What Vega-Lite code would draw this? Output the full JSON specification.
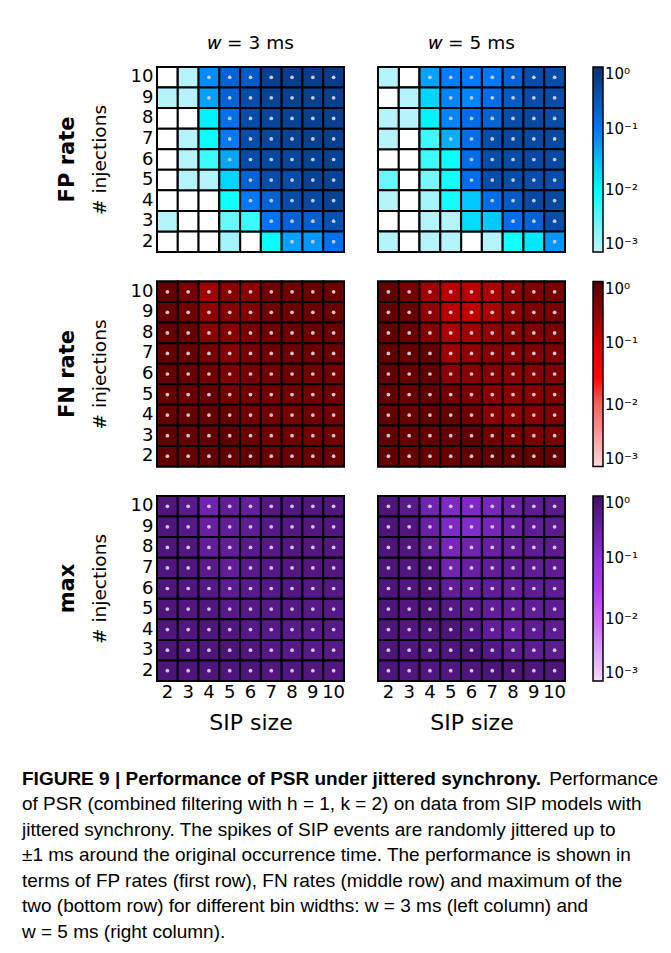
{
"$schema":"https://vega.github.io/schema/vega-lite/v6.json",
"background":"white",
"padding":{"left":22,"top":33,"right":0,"bottom":0},
"config":{
 "view":{"stroke":null},
 "font":"DejaVu Sans",
 "axis":{"labelFont":"DejaVu Sans","labelFontSize":18,"labelColor":"black","titleFont":"DejaVu Sans","titleFontWeight":"normal","titleColor":"black","ticks":false,"domain":false,"grid":false,"labelPadding":4,"labelAngle":0},
 "legend":{"gradientLength":185,"gradientThickness":10,"gradientStrokeColor":"black","gradientStrokeWidth":1.5,"labelFont":"DejaVu Sans","labelFontSize":15,"labelColor":"black","labelOffset":3,"offset":28,"padding":0},
 "title":{"font":"DejaVu Sans","color":"black"}
},
"datasets":{
"fp3":[
{"s":2,"n":10,"v":0},{"s":3,"n":10,"v":0.0012},{"s":4,"n":10,"v":0.07},{"s":5,"n":10,"v":0.2},{"s":6,"n":10,"v":0.25},{"s":7,"n":10,"v":0.6},{"s":8,"n":10,"v":0.65},{"s":9,"n":10,"v":0.65},{"s":10,"n":10,"v":0.65},
{"s":2,"n":9,"v":0.0012},{"s":3,"n":9,"v":0.0012},{"s":4,"n":9,"v":0.05},{"s":5,"n":9,"v":0.2},{"s":6,"n":9,"v":0.4},{"s":7,"n":9,"v":0.55},{"s":8,"n":9,"v":0.6},{"s":9,"n":9,"v":0.6},{"s":10,"n":9,"v":0.6},
{"s":2,"n":8,"v":0},{"s":3,"n":8,"v":0},{"s":4,"n":8,"v":0.013},{"s":5,"n":8,"v":0.13},{"s":6,"n":8,"v":0.4},{"s":7,"n":8,"v":0.5},{"s":8,"n":8,"v":0.55},{"s":9,"n":8,"v":0.6},{"s":10,"n":8,"v":0.6},
{"s":2,"n":7,"v":0},{"s":3,"n":7,"v":0.0012},{"s":4,"n":7,"v":0.009},{"s":5,"n":7,"v":0.1},{"s":6,"n":7,"v":0.4},{"s":7,"n":7,"v":0.5},{"s":8,"n":7,"v":0.55},{"s":9,"n":7,"v":0.6},{"s":10,"n":7,"v":0.6},
{"s":2,"n":6,"v":0},{"s":3,"n":6,"v":0.0012},{"s":4,"n":6,"v":0.005},{"s":5,"n":6,"v":0.045},{"s":6,"n":6,"v":0.4},{"s":7,"n":6,"v":0.45},{"s":8,"n":6,"v":0.5},{"s":9,"n":6,"v":0.55},{"s":10,"n":6,"v":0.55},
{"s":2,"n":5,"v":0},{"s":3,"n":5,"v":0.0012},{"s":4,"n":5,"v":0.0012},{"s":5,"n":5,"v":0.02},{"s":6,"n":5,"v":0.2},{"s":7,"n":5,"v":0.4},{"s":8,"n":5,"v":0.4},{"s":9,"n":5,"v":0.55},{"s":10,"n":5,"v":0.55},
{"s":2,"n":4,"v":0},{"s":3,"n":4,"v":0},{"s":4,"n":4,"v":0},{"s":5,"n":4,"v":0.008},{"s":6,"n":4,"v":0.1},{"s":7,"n":4,"v":0.2},{"s":8,"n":4,"v":0.4},{"s":9,"n":4,"v":0.45},{"s":10,"n":4,"v":0.55},
{"s":2,"n":3,"v":0.0012},{"s":3,"n":3,"v":0},{"s":4,"n":3,"v":0},{"s":5,"n":3,"v":0.003},{"s":6,"n":3,"v":0.005},{"s":7,"n":3,"v":0.12},{"s":8,"n":3,"v":0.2},{"s":9,"n":3,"v":0.22},{"s":10,"n":3,"v":0.35},
{"s":2,"n":2,"v":0},{"s":3,"n":2,"v":0},{"s":4,"n":2,"v":0},{"s":5,"n":2,"v":0.0015},{"s":6,"n":2,"v":0},{"s":7,"n":2,"v":0.009},{"s":8,"n":2,"v":0.05},{"s":9,"n":2,"v":0.06},{"s":10,"n":2,"v":0.13}
],
"fp5":[
{"s":2,"n":10,"v":0.0012},{"s":3,"n":10,"v":0},{"s":4,"n":10,"v":0.05},{"s":5,"n":10,"v":0.09},{"s":6,"n":10,"v":0.1},{"s":7,"n":10,"v":0.1},{"s":8,"n":10,"v":0.2},{"s":9,"n":10,"v":0.4},{"s":10,"n":10,"v":0.4},
{"s":2,"n":9,"v":0},{"s":3,"n":9,"v":0.0012},{"s":4,"n":9,"v":0.02},{"s":5,"n":9,"v":0.08},{"s":6,"n":9,"v":0.08},{"s":7,"n":9,"v":0.14},{"s":8,"n":9,"v":0.25},{"s":9,"n":9,"v":0.4},{"s":10,"n":9,"v":0.4},
{"s":2,"n":8,"v":0.0012},{"s":3,"n":8,"v":0.0012},{"s":4,"n":8,"v":0.012},{"s":5,"n":8,"v":0.08},{"s":6,"n":8,"v":0.14},{"s":7,"n":8,"v":0.2},{"s":8,"n":8,"v":0.4},{"s":9,"n":8,"v":0.45},{"s":10,"n":8,"v":0.4},
{"s":2,"n":7,"v":0.0012},{"s":3,"n":7,"v":0},{"s":4,"n":7,"v":0.005},{"s":5,"n":7,"v":0.04},{"s":6,"n":7,"v":0.14},{"s":7,"n":7,"v":0.4},{"s":8,"n":7,"v":0.45},{"s":9,"n":7,"v":0.45},{"s":10,"n":7,"v":0.45},
{"s":2,"n":6,"v":0},{"s":3,"n":6,"v":0},{"s":4,"n":6,"v":0.005},{"s":5,"n":6,"v":0.009},{"s":6,"n":6,"v":0.14},{"s":7,"n":6,"v":0.4},{"s":8,"n":6,"v":0.4},{"s":9,"n":6,"v":0.45},{"s":10,"n":6,"v":0.45},
{"s":2,"n":5,"v":0.003},{"s":3,"n":5,"v":0},{"s":4,"n":5,"v":0.0025},{"s":5,"n":5,"v":0.008},{"s":6,"n":5,"v":0.14},{"s":7,"n":5,"v":0.4},{"s":8,"n":5,"v":0.4},{"s":9,"n":5,"v":0.4},{"s":10,"n":5,"v":0.4},
{"s":2,"n":4,"v":0.0012},{"s":3,"n":4,"v":0},{"s":4,"n":4,"v":0.0015},{"s":5,"n":4,"v":0.008},{"s":6,"n":4,"v":0.025},{"s":7,"n":4,"v":0.14},{"s":8,"n":4,"v":0.25},{"s":9,"n":4,"v":0.45},{"s":10,"n":4,"v":0.45},
{"s":2,"n":3,"v":0},{"s":3,"n":3,"v":0},{"s":4,"n":3,"v":0.0012},{"s":5,"n":3,"v":0.0012},{"s":6,"n":3,"v":0.018},{"s":7,"n":3,"v":0.025},{"s":8,"n":3,"v":0.14},{"s":9,"n":3,"v":0.2},{"s":10,"n":3,"v":0.4},
{"s":2,"n":2,"v":0.0012},{"s":3,"n":2,"v":0},{"s":4,"n":2,"v":0.0012},{"s":5,"n":2,"v":0.0012},{"s":6,"n":2,"v":0},{"s":7,"n":2,"v":0.0012},{"s":8,"n":2,"v":0.008},{"s":9,"n":2,"v":0.015},{"s":10,"n":2,"v":0.06}
],
"fn3":[
{"s":2,"n":10,"v":0.7},{"s":3,"n":10,"v":0.51},{"s":4,"n":10,"v":0.26},{"s":5,"n":10,"v":0.39},{"s":6,"n":10,"v":0.37},{"s":7,"n":10,"v":0.58},{"s":8,"n":10,"v":0.58},{"s":9,"n":10,"v":0.64},{"s":10,"n":10,"v":0.64},
{"s":2,"n":9,"v":0.7},{"s":3,"n":9,"v":0.58},{"s":4,"n":9,"v":0.34},{"s":5,"n":9,"v":0.4},{"s":6,"n":9,"v":0.43},{"s":7,"n":9,"v":0.58},{"s":8,"n":9,"v":0.6},{"s":9,"n":9,"v":0.62},{"s":10,"n":9,"v":0.64},
{"s":2,"n":8,"v":0.7},{"s":3,"n":8,"v":0.67},{"s":4,"n":8,"v":0.39},{"s":5,"n":8,"v":0.4},{"s":6,"n":8,"v":0.51},{"s":7,"n":8,"v":0.58},{"s":8,"n":8,"v":0.62},{"s":9,"n":8,"v":0.62},{"s":10,"n":8,"v":0.62},
{"s":2,"n":7,"v":0.7},{"s":3,"n":7,"v":0.67},{"s":4,"n":7,"v":0.51},{"s":5,"n":7,"v":0.39},{"s":6,"n":7,"v":0.51},{"s":7,"n":7,"v":0.58},{"s":8,"n":7,"v":0.62},{"s":9,"n":7,"v":0.62},{"s":10,"n":7,"v":0.64},
{"s":2,"n":6,"v":0.7},{"s":3,"n":6,"v":0.67},{"s":4,"n":6,"v":0.58},{"s":5,"n":6,"v":0.44},{"s":6,"n":6,"v":0.51},{"s":7,"n":6,"v":0.58},{"s":8,"n":6,"v":0.62},{"s":9,"n":6,"v":0.58},{"s":10,"n":6,"v":0.58},
{"s":2,"n":5,"v":0.7},{"s":3,"n":5,"v":0.64},{"s":4,"n":5,"v":0.67},{"s":5,"n":5,"v":0.53},{"s":6,"n":5,"v":0.56},{"s":7,"n":5,"v":0.56},{"s":8,"n":5,"v":0.58},{"s":9,"n":5,"v":0.56},{"s":10,"n":5,"v":0.58},
{"s":2,"n":4,"v":0.7},{"s":3,"n":4,"v":0.67},{"s":4,"n":4,"v":0.7},{"s":5,"n":4,"v":0.67},{"s":6,"n":4,"v":0.56},{"s":7,"n":4,"v":0.56},{"s":8,"n":4,"v":0.54},{"s":9,"n":4,"v":0.56},{"s":10,"n":4,"v":0.56},
{"s":2,"n":3,"v":0.76},{"s":3,"n":3,"v":0.7},{"s":4,"n":3,"v":0.7},{"s":5,"n":3,"v":0.76},{"s":6,"n":3,"v":0.64},{"s":7,"n":3,"v":0.58},{"s":8,"n":3,"v":0.58},{"s":9,"n":3,"v":0.56},{"s":10,"n":3,"v":0.56},
{"s":2,"n":2,"v":0.76},{"s":3,"n":2,"v":0.7},{"s":4,"n":2,"v":0.7},{"s":5,"n":2,"v":0.7},{"s":6,"n":2,"v":0.7},{"s":7,"n":2,"v":0.64},{"s":8,"n":2,"v":0.64},{"s":9,"n":2,"v":0.64},{"s":10,"n":2,"v":0.64}
],
"fn5":[
{"s":2,"n":10,"v":0.7},{"s":3,"n":10,"v":0.51},{"s":4,"n":10,"v":0.26},{"s":5,"n":10,"v":0.17},{"s":6,"n":10,"v":0.17},{"s":7,"n":10,"v":0.2},{"s":8,"n":10,"v":0.34},{"s":9,"n":10,"v":0.44},{"s":10,"n":10,"v":0.51},
{"s":2,"n":9,"v":0.7},{"s":3,"n":9,"v":0.64},{"s":4,"n":9,"v":0.32},{"s":5,"n":9,"v":0.17},{"s":6,"n":9,"v":0.15},{"s":7,"n":9,"v":0.22},{"s":8,"n":9,"v":0.34},{"s":9,"n":9,"v":0.44},{"s":10,"n":9,"v":0.49},
{"s":2,"n":8,"v":0.7},{"s":3,"n":8,"v":0.67},{"s":4,"n":8,"v":0.43},{"s":5,"n":8,"v":0.21},{"s":6,"n":8,"v":0.26},{"s":7,"n":8,"v":0.34},{"s":8,"n":8,"v":0.39},{"s":9,"n":8,"v":0.44},{"s":10,"n":8,"v":0.47},
{"s":2,"n":7,"v":0.7},{"s":3,"n":7,"v":0.67},{"s":4,"n":7,"v":0.73},{"s":5,"n":7,"v":0.26},{"s":6,"n":7,"v":0.34},{"s":7,"n":7,"v":0.39},{"s":8,"n":7,"v":0.39},{"s":9,"n":7,"v":0.43},{"s":10,"n":7,"v":0.44},
{"s":2,"n":6,"v":0.7},{"s":3,"n":6,"v":0.67},{"s":4,"n":6,"v":0.73},{"s":5,"n":6,"v":0.39},{"s":6,"n":6,"v":0.4},{"s":7,"n":6,"v":0.41},{"s":8,"n":6,"v":0.39},{"s":9,"n":6,"v":0.4},{"s":10,"n":6,"v":0.44},
{"s":2,"n":5,"v":0.7},{"s":3,"n":5,"v":0.64},{"s":4,"n":5,"v":0.73},{"s":5,"n":5,"v":0.58},{"s":6,"n":5,"v":0.49},{"s":7,"n":5,"v":0.39},{"s":8,"n":5,"v":0.39},{"s":9,"n":5,"v":0.4},{"s":10,"n":5,"v":0.44},
{"s":2,"n":4,"v":0.7},{"s":3,"n":4,"v":0.64},{"s":4,"n":4,"v":0.7},{"s":5,"n":4,"v":0.73},{"s":6,"n":4,"v":0.58},{"s":7,"n":4,"v":0.39},{"s":8,"n":4,"v":0.37},{"s":9,"n":4,"v":0.4},{"s":10,"n":4,"v":0.44},
{"s":2,"n":3,"v":0.7},{"s":3,"n":3,"v":0.67},{"s":4,"n":3,"v":0.67},{"s":5,"n":3,"v":0.7},{"s":6,"n":3,"v":0.76},{"s":7,"n":3,"v":0.58},{"s":8,"n":3,"v":0.49},{"s":9,"n":3,"v":0.47},{"s":10,"n":3,"v":0.49},
{"s":2,"n":2,"v":0.7},{"s":3,"n":2,"v":0.67},{"s":4,"n":2,"v":0.67},{"s":5,"n":2,"v":0.67},{"s":6,"n":2,"v":0.7},{"s":7,"n":2,"v":0.76},{"s":8,"n":2,"v":0.73},{"s":9,"n":2,"v":0.7},{"s":10,"n":2,"v":0.73}
],
"mx3":[
{"s":2,"n":10,"v":0.7},{"s":3,"n":10,"v":0.51},{"s":4,"n":10,"v":0.26},{"s":5,"n":10,"v":0.39},{"s":6,"n":10,"v":0.37},{"s":7,"n":10,"v":0.6},{"s":8,"n":10,"v":0.65},{"s":9,"n":10,"v":0.65},{"s":10,"n":10,"v":0.65},
{"s":2,"n":9,"v":0.7},{"s":3,"n":9,"v":0.58},{"s":4,"n":9,"v":0.34},{"s":5,"n":9,"v":0.4},{"s":6,"n":9,"v":0.43},{"s":7,"n":9,"v":0.58},{"s":8,"n":9,"v":0.6},{"s":9,"n":9,"v":0.62},{"s":10,"n":9,"v":0.64},
{"s":2,"n":8,"v":0.7},{"s":3,"n":8,"v":0.67},{"s":4,"n":8,"v":0.39},{"s":5,"n":8,"v":0.4},{"s":6,"n":8,"v":0.51},{"s":7,"n":8,"v":0.58},{"s":8,"n":8,"v":0.62},{"s":9,"n":8,"v":0.62},{"s":10,"n":8,"v":0.62},
{"s":2,"n":7,"v":0.7},{"s":3,"n":7,"v":0.67},{"s":4,"n":7,"v":0.51},{"s":5,"n":7,"v":0.39},{"s":6,"n":7,"v":0.51},{"s":7,"n":7,"v":0.58},{"s":8,"n":7,"v":0.62},{"s":9,"n":7,"v":0.62},{"s":10,"n":7,"v":0.64},
{"s":2,"n":6,"v":0.7},{"s":3,"n":6,"v":0.67},{"s":4,"n":6,"v":0.58},{"s":5,"n":6,"v":0.44},{"s":6,"n":6,"v":0.51},{"s":7,"n":6,"v":0.58},{"s":8,"n":6,"v":0.62},{"s":9,"n":6,"v":0.58},{"s":10,"n":6,"v":0.58},
{"s":2,"n":5,"v":0.7},{"s":3,"n":5,"v":0.64},{"s":4,"n":5,"v":0.67},{"s":5,"n":5,"v":0.53},{"s":6,"n":5,"v":0.56},{"s":7,"n":5,"v":0.56},{"s":8,"n":5,"v":0.58},{"s":9,"n":5,"v":0.56},{"s":10,"n":5,"v":0.58},
{"s":2,"n":4,"v":0.7},{"s":3,"n":4,"v":0.67},{"s":4,"n":4,"v":0.7},{"s":5,"n":4,"v":0.67},{"s":6,"n":4,"v":0.56},{"s":7,"n":4,"v":0.56},{"s":8,"n":4,"v":0.54},{"s":9,"n":4,"v":0.56},{"s":10,"n":4,"v":0.56},
{"s":2,"n":3,"v":0.76},{"s":3,"n":3,"v":0.7},{"s":4,"n":3,"v":0.7},{"s":5,"n":3,"v":0.76},{"s":6,"n":3,"v":0.64},{"s":7,"n":3,"v":0.58},{"s":8,"n":3,"v":0.58},{"s":9,"n":3,"v":0.56},{"s":10,"n":3,"v":0.56},
{"s":2,"n":2,"v":0.76},{"s":3,"n":2,"v":0.7},{"s":4,"n":2,"v":0.7},{"s":5,"n":2,"v":0.7},{"s":6,"n":2,"v":0.7},{"s":7,"n":2,"v":0.64},{"s":8,"n":2,"v":0.64},{"s":9,"n":2,"v":0.64},{"s":10,"n":2,"v":0.64}
],
"mx5":[
{"s":2,"n":10,"v":0.7},{"s":3,"n":10,"v":0.51},{"s":4,"n":10,"v":0.26},{"s":5,"n":10,"v":0.17},{"s":6,"n":10,"v":0.17},{"s":7,"n":10,"v":0.2},{"s":8,"n":10,"v":0.34},{"s":9,"n":10,"v":0.44},{"s":10,"n":10,"v":0.51},
{"s":2,"n":9,"v":0.7},{"s":3,"n":9,"v":0.64},{"s":4,"n":9,"v":0.32},{"s":5,"n":9,"v":0.17},{"s":6,"n":9,"v":0.15},{"s":7,"n":9,"v":0.22},{"s":8,"n":9,"v":0.34},{"s":9,"n":9,"v":0.44},{"s":10,"n":9,"v":0.49},
{"s":2,"n":8,"v":0.7},{"s":3,"n":8,"v":0.67},{"s":4,"n":8,"v":0.43},{"s":5,"n":8,"v":0.21},{"s":6,"n":8,"v":0.26},{"s":7,"n":8,"v":0.34},{"s":8,"n":8,"v":0.4},{"s":9,"n":8,"v":0.45},{"s":10,"n":8,"v":0.47},
{"s":2,"n":7,"v":0.7},{"s":3,"n":7,"v":0.67},{"s":4,"n":7,"v":0.73},{"s":5,"n":7,"v":0.26},{"s":6,"n":7,"v":0.34},{"s":7,"n":7,"v":0.4},{"s":8,"n":7,"v":0.45},{"s":9,"n":7,"v":0.45},{"s":10,"n":7,"v":0.45},
{"s":2,"n":6,"v":0.7},{"s":3,"n":6,"v":0.67},{"s":4,"n":6,"v":0.73},{"s":5,"n":6,"v":0.39},{"s":6,"n":6,"v":0.4},{"s":7,"n":6,"v":0.41},{"s":8,"n":6,"v":0.4},{"s":9,"n":6,"v":0.45},{"s":10,"n":6,"v":0.45},
{"s":2,"n":5,"v":0.7},{"s":3,"n":5,"v":0.64},{"s":4,"n":5,"v":0.73},{"s":5,"n":5,"v":0.58},{"s":6,"n":5,"v":0.49},{"s":7,"n":5,"v":0.4},{"s":8,"n":5,"v":0.4},{"s":9,"n":5,"v":0.4},{"s":10,"n":5,"v":0.44},
{"s":2,"n":4,"v":0.7},{"s":3,"n":4,"v":0.64},{"s":4,"n":4,"v":0.7},{"s":5,"n":4,"v":0.73},{"s":6,"n":4,"v":0.58},{"s":7,"n":4,"v":0.39},{"s":8,"n":4,"v":0.37},{"s":9,"n":4,"v":0.45},{"s":10,"n":4,"v":0.45},
{"s":2,"n":3,"v":0.7},{"s":3,"n":3,"v":0.67},{"s":4,"n":3,"v":0.67},{"s":5,"n":3,"v":0.7},{"s":6,"n":3,"v":0.76},{"s":7,"n":3,"v":0.58},{"s":8,"n":3,"v":0.49},{"s":9,"n":3,"v":0.47},{"s":10,"n":3,"v":0.49},
{"s":2,"n":2,"v":0.7},{"s":3,"n":2,"v":0.67},{"s":4,"n":2,"v":0.67},{"s":5,"n":2,"v":0.67},{"s":6,"n":2,"v":0.7},{"s":7,"n":2,"v":0.76},{"s":8,"n":2,"v":0.73},{"s":9,"n":2,"v":0.7},{"s":10,"n":2,"v":0.73}
],
"caption":[
{"line":1,"part":"bold","t":"FIGURE 9 | Performance of PSR under jittered synchrony."},
{"line":1,"part":"end","t":"Performance"},
{"line":2,"part":"body","t":"of PSR (combined filtering with h = 1, k = 2) on data from SIP models with"},
{"line":3,"part":"body","t":"jittered synchrony. The spikes of SIP events are randomly jittered up to"},
{"line":4,"part":"body","t":"±1 ms around the original occurrence time. The performance is shown in"},
{"line":5,"part":"body","t":"terms of FP rates (first row), FN rates (middle row) and maximum of the"},
{"line":6,"part":"body","t":"two (bottom row) for different bin widths: w = 3 ms (left column) and"},
{"line":7,"part":"body","t":"w = 5 ms (right column)."}
]
},
"spacing":33,
"vconcat":[
{"spacing":27.5,"vconcat":[
 {"spacing":32,"resolve":{"scale":{"color":"independent"}},"hconcat":[
  {"width":187,"height":185,"data":{"name":"fp3"},
   "title":{"text":"FP rate","orient":"left","frame":"group","anchor":"middle","fontSize":21,"fontWeight":"bold","offset":12},
   "encoding":{
    "x":{"field":"s","type":"ordinal","scale":{"paddingInner":0,"paddingOuter":0},"axis":{"orient":"top","labels":false,"title":"𝑤 = 3 ms","titleFontSize":18.5,"titlePadding":15}},
    "y":{"field":"n","type":"ordinal","sort":"descending","scale":{"paddingInner":0,"paddingOuter":0},"axis":{"title":"# injections","titleFontSize":18.5,"titlePadding":21}}},
   "layer":[
    {"mark":{"type":"rect","fill":"white","stroke":"black","strokeWidth":2}},
    {"transform":[{"filter":"datum.v > 0"}],"mark":{"type":"rect","stroke":"black","strokeWidth":2},
     "encoding":{"color":{"field":"v","type":"quantitative","scale":{"type":"log","domain":[0.001,0.01,0.1,1],"range":["#c4f2f8","#00ffff","#0078ff","#0a3070"],"interpolate":"rgb","clamp":true},"legend":null}}},
    {"transform":[{"filter":"datum.v >= 0.03"}],"mark":{"type":"point","filled":true,"size":14,"color":"#c8c8d0","opacity":1}}
   ]},
  {"width":187,"height":185,"data":{"name":"fp5"},
   "encoding":{
    "x":{"field":"s","type":"ordinal","scale":{"paddingInner":0,"paddingOuter":0},"axis":{"orient":"top","labels":false,"title":"𝑤 = 5 ms","titleFontSize":18.5,"titlePadding":15}},
    "y":{"field":"n","type":"ordinal","sort":"descending","scale":{"paddingInner":0,"paddingOuter":0},"axis":null}},
   "layer":[
    {"mark":{"type":"rect","fill":"white","stroke":"black","strokeWidth":2}},
    {"transform":[{"filter":"datum.v > 0"}],"mark":{"type":"rect","stroke":"black","strokeWidth":2},
     "encoding":{"color":{"field":"v","type":"quantitative","scale":{"type":"log","domain":[0.001,0.01,0.1,1],"range":["#c4f2f8","#00ffff","#0078ff","#0a3070"],"interpolate":"rgb","clamp":true},
      "legend":{"title":null,"values":[0.001,0.01,0.1,1],"labelExpr":"datum.value > 0.5 ? '10⁰' : datum.value > 0.05 ? '10⁻¹' : datum.value > 0.005 ? '10⁻²' : '10⁻³'"}}}},
    {"transform":[{"filter":"datum.v >= 0.03"}],"mark":{"type":"point","filled":true,"size":14,"color":"#c8c8d0","opacity":1}}
   ]}
 ]},
 {"spacing":32,"resolve":{"scale":{"color":"independent"}},"hconcat":[
  {"width":187,"height":185,"data":{"name":"fn3"},
   "title":{"text":"FN rate","orient":"left","frame":"group","anchor":"middle","fontSize":21,"fontWeight":"bold","offset":12},
   "encoding":{
    "x":{"field":"s","type":"ordinal","scale":{"paddingInner":0,"paddingOuter":0},"axis":null},
    "y":{"field":"n","type":"ordinal","sort":"descending","scale":{"paddingInner":0,"paddingOuter":0},"axis":{"title":"# injections","titleFontSize":18.5,"titlePadding":21}}},
   "layer":[
    {"mark":{"type":"rect","fill":"white","stroke":"black","strokeWidth":2}},
    {"transform":[{"filter":"datum.v > 0"}],"mark":{"type":"rect","stroke":"black","strokeWidth":2},
     "encoding":{"color":{"field":"v","type":"quantitative","scale":{"type":"log","domain":[0.001,0.01,0.03,0.1,1],"range":["#ffd8d8","#ff6060","#ff0000","#d80000","#500000"],"interpolate":"rgb","clamp":true},"legend":null}}},
    {"transform":[{"filter":"datum.v >= 0.03"}],"mark":{"type":"point","filled":true,"size":14,"color":"#c8c8d0","opacity":1}}
   ]},
  {"width":187,"height":185,"data":{"name":"fn5"},
   "encoding":{
    "x":{"field":"s","type":"ordinal","scale":{"paddingInner":0,"paddingOuter":0},"axis":null},
    "y":{"field":"n","type":"ordinal","sort":"descending","scale":{"paddingInner":0,"paddingOuter":0},"axis":null}},
   "layer":[
    {"mark":{"type":"rect","fill":"white","stroke":"black","strokeWidth":2}},
    {"transform":[{"filter":"datum.v > 0"}],"mark":{"type":"rect","stroke":"black","strokeWidth":2},
     "encoding":{"color":{"field":"v","type":"quantitative","scale":{"type":"log","domain":[0.001,0.01,0.03,0.1,1],"range":["#ffd8d8","#ff6060","#ff0000","#d80000","#500000"],"interpolate":"rgb","clamp":true},
      "legend":{"title":null,"values":[0.001,0.01,0.1,1],"labelExpr":"datum.value > 0.5 ? '10⁰' : datum.value > 0.05 ? '10⁻¹' : datum.value > 0.005 ? '10⁻²' : '10⁻³'"}}}},
    {"transform":[{"filter":"datum.v >= 0.03"}],"mark":{"type":"point","filled":true,"size":14,"color":"#c8c8d0","opacity":1}}
   ]}
 ]},
 {"spacing":32,"resolve":{"scale":{"color":"independent"}},"hconcat":[
  {"width":187,"height":185,"data":{"name":"mx3"},
   "title":{"text":"max","orient":"left","frame":"group","anchor":"middle","fontSize":21,"fontWeight":"bold","offset":12},
   "encoding":{
    "x":{"field":"s","type":"ordinal","scale":{"paddingInner":0,"paddingOuter":0},"axis":{"title":"SIP size","titleFontSize":22,"titlePadding":11,"labelPadding":2}},
    "y":{"field":"n","type":"ordinal","sort":"descending","scale":{"paddingInner":0,"paddingOuter":0},"axis":{"title":"# injections","titleFontSize":18.5,"titlePadding":21}}},
   "layer":[
    {"mark":{"type":"rect","fill":"white","stroke":"black","strokeWidth":2}},
    {"transform":[{"filter":"datum.v > 0"}],"mark":{"type":"rect","stroke":"black","strokeWidth":2},
     "encoding":{"color":{"field":"v","type":"quantitative","scale":{"type":"log","domain":[0.001,0.01,0.03,0.1,1],"range":["#f0dcff","#cc66ff","#b33cff","#9030e0","#44106a"],"interpolate":"rgb","clamp":true},"legend":null}}},
    {"transform":[{"filter":"datum.v >= 0.03"}],"mark":{"type":"point","filled":true,"size":14,"color":"#c8c8d0","opacity":1}}
   ]},
  {"width":187,"height":185,"data":{"name":"mx5"},
   "encoding":{
    "x":{"field":"s","type":"ordinal","scale":{"paddingInner":0,"paddingOuter":0},"axis":{"title":"SIP size","titleFontSize":22,"titlePadding":11,"labelPadding":2}},
    "y":{"field":"n","type":"ordinal","sort":"descending","scale":{"paddingInner":0,"paddingOuter":0},"axis":null}},
   "layer":[
    {"mark":{"type":"rect","fill":"white","stroke":"black","strokeWidth":2}},
    {"transform":[{"filter":"datum.v > 0"}],"mark":{"type":"rect","stroke":"black","strokeWidth":2},
     "encoding":{"color":{"field":"v","type":"quantitative","scale":{"type":"log","domain":[0.001,0.01,0.03,0.1,1],"range":["#f0dcff","#cc66ff","#b33cff","#9030e0","#44106a"],"interpolate":"rgb","clamp":true},
      "legend":{"title":null,"values":[0.001,0.01,0.1,1],"labelExpr":"datum.value > 0.5 ? '10⁰' : datum.value > 0.05 ? '10⁻¹' : datum.value > 0.005 ? '10⁻²' : '10⁻³'"}}}},
    {"transform":[{"filter":"datum.v >= 0.03"}],"mark":{"type":"point","filled":true,"size":14,"color":"#c8c8d0","opacity":1}}
   ]}
 ]}
]},
{"width":501,"height":178.5,"data":{"name":"caption"},
 "encoding":{"y":{"field":"line","type":"ordinal","axis":null,"scale":{"domain":[1,2,3,4,5,6,7],"paddingInner":0,"paddingOuter":0}}},
 "layer":[
  {"transform":[{"filter":"datum.part == 'bold'"}],
   "mark":{"type":"text","align":"left","baseline":"middle","font":"Liberation Sans","fontSize":19,"fontWeight":"bold","color":"black"},
   "encoding":{"x":{"datum":0,"type":"quantitative","scale":{"domain":[0,1],"range":[-135,501]},"axis":null},"text":{"field":"t"}}},
  {"transform":[{"filter":"datum.part == 'body'"}],
   "mark":{"type":"text","align":"left","baseline":"middle","font":"Liberation Sans","fontSize":19,"color":"black"},
   "encoding":{"x":{"datum":0,"type":"quantitative","scale":{"domain":[0,1],"range":[-135,501]},"axis":null},"text":{"field":"t"}}},
  {"transform":[{"filter":"datum.part == 'end'"}],
   "mark":{"type":"text","align":"right","baseline":"middle","font":"Liberation Sans","fontSize":19,"color":"black"},
   "encoding":{"x":{"datum":1,"type":"quantitative","scale":{"domain":[0,1],"range":[-135,501]},"axis":null},"text":{"field":"t"}}}
 ]}
]
}
